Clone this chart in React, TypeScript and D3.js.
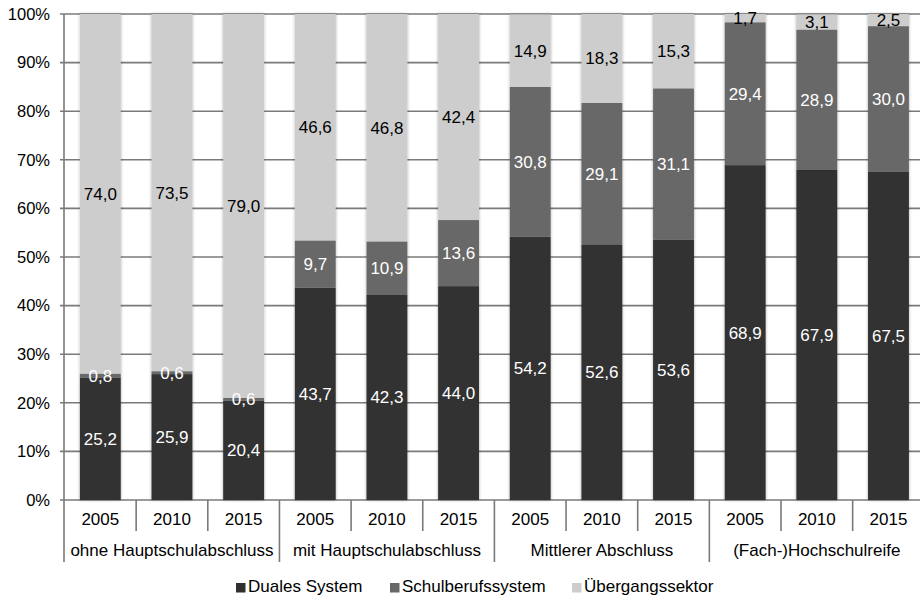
import React from 'react';
import * as d3 from 'd3';

const groups = ['ohne Hauptschulabschluss', 'mit Hauptschulabschluss', 'Mittlerer Abschluss', '(Fach-)Hochschulreife'];
const years = ['2005', '2010', '2015'];
const seriesNames = ['Duales System', 'Schulberufssystem', 'Übergangssektor'];

const duales = [25.2, 25.9, 20.4, 43.7, 42.3, 44.0, 54.2, 52.6, 53.6, 68.9, 67.9, 67.5];
const schulberuf = [0.8, 0.6, 0.6, 9.7, 10.9, 13.6, 30.8, 29.1, 31.1, 29.4, 28.9, 30.0];
const uebergang = [74.0, 73.5, 79.0, 46.6, 46.8, 42.4, 14.9, 18.3, 15.3, 1.7, 3.1, 2.5];

const yTicks = [0, 10, 20, 30, 40, 50, 60, 70, 80, 90, 100];

const colors = ['#303030', '#686868', '#cdcdcd'];
const labelColors = ['#ffffff', '#ffffff', '#000000'];

const W = 920;
const H = 596;
const left = 64.5;
const step = 71.65;
const right = left + step * 12;
const top = 14;
const bottom = 500;
const font = '"Liberation Sans", Arial, sans-serif';
const grid = '#7a7a7a';
const fs = 17;

const fmt = (v: number) => v.toFixed(1).replace('.', ',');

export default function App() {
	const rows = duales.map((d, i) => ({
		key: String(i),
		[seriesNames[0]]: d,
		[seriesNames[1]]: schulberuf[i],
		[seriesNames[2]]: uebergang[i],
	}));
	const stacked = d3.stack<any>().keys(seriesNames)(rows);

	const x = d3.scaleBand<string>()
		.domain(rows.map(r => r.key))
		.range([left, right])
		.paddingInner(0.43)
		.paddingOuter(0.215);
	const y = d3.scaleLinear().domain([0, 100]).range([bottom, top]);

	const catX = (i: number) => left + i * step;
	const legendX = [236, 390, 572];

	return (
		<svg width={W} height={H} style={{ position: 'absolute', left: 0, top: 0, background: '#fff' }} fontFamily={font}>
			<defs>
				<filter id="sh" x="-30%" y="-5%" width="160%" height="110%">
					<feDropShadow dx="0" dy="0" stdDeviation="1.4" floodColor="#000" floodOpacity="0.35" />
				</filter>
			</defs>

			{/* grid + y axis */}
			{yTicks.map(t => (
				<g key={t}>
					{t > 0 && <line x1={60} x2={W} y1={y(t)} y2={y(t)} stroke={grid} strokeWidth={1.6} />}
					<text x={50} y={y(t)} dy="0.35em" textAnchor="end" fontSize={16.5}>{t}%</text>
				</g>
			))}
			<line x1={64} x2={64} y1={top} y2={562} stroke={grid} strokeWidth={1.6} />
			<line x1={60} x2={W} y1={bottom} y2={bottom} stroke={grid} strokeWidth={1.6} />

			{/* bars */}
			{rows.map((r, i) => (
				<g key={r.key} filter="url(#sh)">
					{stacked.map((s, k) => (
						<rect key={k} x={x(r.key)} width={x.bandwidth()}
							y={y(s[i][1])} height={y(s[i][0]) - y(s[i][1])} fill={colors[k]} />
					))}
				</g>
			))}
			{rows.map((r, i) => stacked.map((s, k) => (
				<text key={r.key + '-' + k} x={(x(r.key) || 0) + x.bandwidth() / 2}
					y={y((s[i][0] + s[i][1]) / 2)} dy="0.35em" textAnchor="middle"
					fontSize={fs} fill={labelColors[k]}>{fmt(s[i][1] - s[i][0])}</text>
			)))}

			{/* category axis */}
			{d3.range(1, 13).map(i => (
				<line key={i} x1={catX(i)} x2={catX(i)} y1={bottom} y2={i % 3 === 0 ? 562 : 531} stroke={grid} strokeWidth={1.6} />
			))}
			{rows.map((r, i) => (
				<text key={r.key} x={(x(r.key) || 0) + x.bandwidth() / 2} y={525} textAnchor="middle" fontSize={fs}>
					{years[i % 3]}
				</text>
			))}
			{groups.map((g, j) => (
				<text key={g} x={catX(j * 3 + 1.5)} y={556} textAnchor="middle" fontSize={fs}>{g}</text>
			))}

			{/* legend */}
			{seriesNames.map((n, k) => (
				<g key={n}>
					<rect x={legendX[k]} y={583} width={9.5} height={9.5} fill={colors[k]} />
					<text x={legendX[k] + 12} y={592} fontSize={fs}>{n}</text>
				</g>
			))}
		</svg>
	);
}
